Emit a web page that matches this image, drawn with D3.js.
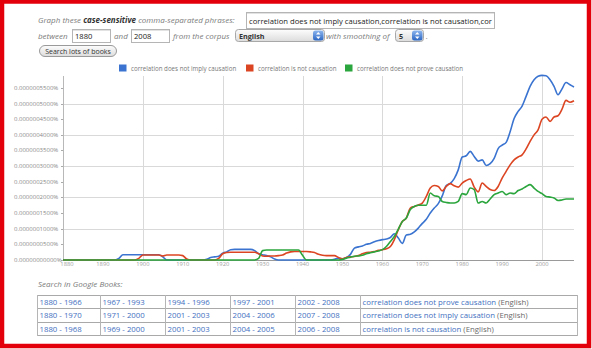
<!DOCTYPE html>
<html lang="en">
<head>
  <meta charset="UTF-8">
  <title>Ngram: correlation / causation</title>
  <style>
    body { margin: 0; background: #fff; overflow: hidden; }
    svg { display: block; font-family: "Open Sans", "DejaVu Sans", sans-serif; }
    .it { font-style: italic; fill: #7a7a7a; font-size: 8px; }
    .grid line { stroke: #d9d9d9; stroke-width: 1; }
    .ylab { font-size: 6px; fill: #8a8a8a; }
    .xlab { font-size: 5.8px; fill: #a0a0a0; }
    .legend text { font-size: 6.2px; fill: #777; }
    .cell { font-size: 7.8px; fill: #4470c0; }
    .lang { fill: #6a6a6a; }
  </style>
</head>
<body>
  <script src="https://d3js.org/d3.v7.min.js"></script>
  <script>
    // years 1880..2008, values in units of 1e-7 percent
    const years = d3.range(1880, 2009);
    const phrases = ["correlation does not imply causation", "correlation is not causation", "correlation does not prove causation"];
    const colors = ["#3a74d0", "#dc4522", "#2ba53d"];

    const notImply = [
      0, 0, 0, 0, 0, 0, 0, 0, 0, 0,
      0, 0, 0, 0, 0.05, 0.17, 0.17, 0.17, 0.17, 0.17,
      0.17, 0.17, 0.17, 0.17, 0.17, 0.1, 0, 0, 0, 0,
      0, 0, 0, 0, 0, 0, 0.02, 0.08, 0.1, 0.12,
      0.22, 0.26, 0.33, 0.34, 0.34, 0.34, 0.34, 0.34, 0.3, 0.2,
      0.17, 0.14, 0.1, 0.03, 0, 0, 0, 0, 0, 0,
      0, 0, 0, 0, 0, 0, 0, 0, 0.02, 0.06,
      0.03, 0.08, 0.18, 0.38, 0.42, 0.45, 0.5, 0.53, 0.58, 0.62,
      0.65, 0.67, 0.72, 0.84, 0.7, 0.53, 0.8, 0.82, 0.9, 1.02,
      1.17, 1.3, 1.5, 1.66, 1.8, 2.05, 2.38, 2.45, 2.6, 2.88,
      3.29, 3.33, 3.47, 3.31, 3.16, 3.2, 3.02, 3.08, 3.25, 3.56,
      3.67, 3.76, 4.1, 4.52, 4.75, 4.92, 5.23, 5.55, 5.76, 5.87,
      5.9, 5.89, 5.76, 5.55, 5.28, 5.47, 5.67, 5.6, 5.53
    ];
    const isNot = [
      0, 0, 0, 0, 0, 0, 0, 0, 0, 0,
      0, 0, 0, 0, 0, 0, 0, 0, 0, 0.05,
      0.16, 0.16, 0.16, 0.16, 0.16, 0.13, 0.16, 0.16, 0.16, 0.16,
      0.14, 0.03, 0, 0, 0, 0, 0, 0, 0, 0.05,
      0.2, 0.24, 0.25, 0.25, 0.25, 0.25, 0.25, 0.25, 0.25, 0.2,
      0.13, 0.12, 0.13, 0.13, 0.14, 0.16, 0.22, 0.26, 0.27, 0.27,
      0.27, 0.27, 0.26, 0.24, 0.18, 0.15, 0.14, 0.14, 0.14, 0.08,
      0.04, 0.08, 0.1, 0.11, 0.14, 0.2, 0.24, 0.25, 0.27, 0.31,
      0.33, 0.36, 0.43, 0.65, 0.97, 1.23, 1.34, 1.66, 1.71, 1.76,
      1.82, 2.03, 2.3, 2.38, 2.35, 2.21, 2.35, 2.44, 2.37, 2.33,
      2.46, 2.54, 2.59, 2.33, 2.18, 2.46, 2.35, 2.25, 2.22, 2.35,
      2.62, 2.83, 3.04, 3.2, 3.29, 3.36, 3.55, 3.79, 4.0, 4.16,
      4.5, 4.57, 4.43, 4.57, 4.61, 4.82, 5.1, 5.04, 5.09
    ];
    const notProve = [
      0, 0, 0, 0, 0, 0, 0, 0, 0, 0,
      0, 0, 0, 0, 0, 0, 0, 0, 0, 0,
      0, 0, 0, 0, 0, 0, 0, 0, 0, 0,
      0, 0, 0, 0, 0, 0, 0, 0, 0, 0,
      0, 0, 0, 0, 0, 0, 0, 0, 0, 0.05,
      0.3, 0.32, 0.32, 0.32, 0.32, 0.32, 0.32, 0.32, 0.32, 0.32,
      0.15, 0, 0, 0, 0, 0, 0, 0, 0, 0,
      0.02, 0.06, 0.09, 0.12, 0.13, 0.15, 0.2, 0.23, 0.26, 0.29,
      0.33, 0.43, 0.59, 0.75, 0.99, 1.23, 1.34, 1.61, 1.71, 1.75,
      1.75, 1.75, 2.14, 2.05, 2.03, 1.87, 1.84, 1.82, 1.82, 1.87,
      2.12, 2.09, 2.3, 2.25, 1.82, 1.87, 1.82, 1.95, 2.09, 2.14,
      2.19, 2.09, 2.14, 2.12, 2.22, 2.27, 2.35, 2.41, 2.3, 2.19,
      2.12, 2.03, 2.01, 1.98, 1.9, 1.92, 1.95, 1.95, 1.95
    ];
    const series = [notImply, isNot, notProve];

    const yTicks = [0, 0.5, 1, 1.5, 2, 2.5, 3, 3.5, 4, 4.5, 5, 5.5];
    const yTickLabels = ["0.00000000000%", "0.0000000500%", "0.0000001000%", "0.0000001500%",
      "0.0000002000%", "0.0000002500%", "0.0000003000%", "0.0000003500%",
      "0.0000004000%", "0.0000004500%", "0.0000005000%", "0.0000005500%"];
    const xTicks = d3.range(1880, 2001, 10);
    const xGrid = [1900, 1920, 1940, 1960, 1980, 2000];

    // search links table
    const tableRows = [
      ["1880 - 1966", "1967 - 1993", "1994 - 1996", "1997 - 2001", "2002 - 2008", "correlation does not prove causation"],
      ["1880 - 1970", "1971 - 2000", "2001 - 2003", "2004 - 2006", "2007 - 2008", "correlation does not imply causation"],
      ["1880 - 1968", "1969 - 2000", "2001 - 2003", "2004 - 2005", "2006 - 2008", "correlation is not causation"]
    ];

    const W = 592, H = 349;
    const svg = d3.select("body").append("svg").attr("width", W).attr("height", H);
    const defs = svg.append("defs");

    const selGrad = defs.append("linearGradient").attr("id", "selg").attr("x1", 0).attr("y1", 0).attr("x2", 0).attr("y2", 1);
    selGrad.append("stop").attr("offset", 0).attr("stop-color", "#fdfdfd");
    selGrad.append("stop").attr("offset", 1).attr("stop-color", "#dcdcdc");
    const spinGrad = defs.append("linearGradient").attr("id", "spg").attr("x1", 0).attr("y1", 0).attr("x2", 0).attr("y2", 1);
    spinGrad.append("stop").attr("offset", 0).attr("stop-color", "#8db6ee");
    spinGrad.append("stop").attr("offset", 1).attr("stop-color", "#2c67c4");

    // red frame
    svg.append("rect").attr("x", 2).attr("y", 1.5).attr("width", 587).attr("height", 344.5)
      .attr("fill", "#fff").attr("stroke", "#e3000b").attr("stroke-width", 4.5);

    // ---- query form ----
    const form = svg.append("g");
    const row1 = form.append("text").attr("class", "it").attr("x", 38).attr("y", 23);
    row1.append("tspan").text("Graph these ");
    row1.append("tspan").attr("font-weight", "bold").attr("fill", "#333").text("case-sensitive");
    row1.append("tspan").text(" comma-separated phrases:");

    function inputBox(x, y, w, h) {
      form.append("rect").attr("x", x + 0.5).attr("y", y + 0.5).attr("width", w).attr("height", h)
        .attr("fill", "#fff").attr("stroke", "#b5b5b5");
      form.append("line").attr("x1", x + 1).attr("x2", x + w).attr("y1", y + 1.5).attr("y2", y + 1.5)
        .attr("stroke", "#e2e2e2");
    }
    inputBox(246, 12, 248, 16);
    form.append("text").attr("x", 249).attr("y", 23.5)
      .attr("font-size", 7.6).attr("fill", "#222")
      .attr("textLength", 243).attr("lengthAdjust", "spacingAndGlyphs")
      .text("correlation does not imply causation,correlation is not causation,cor");

    form.append("text").attr("class", "it").attr("x", 38).attr("y", 39).text("between");
    inputBox(72, 29, 38, 13);
    form.append("text").attr("x", 75).attr("y", 38.8).attr("font-size", 7.6).attr("fill", "#222").text("1880");
    form.append("text").attr("class", "it").attr("x", 114).attr("y", 39).text("and");
    inputBox(131, 29, 38, 13);
    form.append("text").attr("x", 134).attr("y", 38.8).attr("font-size", 7.6).attr("fill", "#222").text("2008");
    form.append("text").attr("class", "it").attr("x", 173).attr("y", 39).text("from the corpus");

    function selectBox(x, w, label) {
      form.append("rect").attr("x", x + 0.5).attr("y", 29.5).attr("width", w).attr("height", 12).attr("rx", 3)
        .attr("fill", "url(#selg)").attr("stroke", "#a8a8a8");
      form.append("text").attr("x", x + 4).attr("y", 38.5).attr("font-size", 7.2)
        .attr("font-weight", "bold").attr("fill", "#333").text(label);
      const sx = x + w - 11;
      form.append("rect").attr("x", sx).attr("y", 30.5).attr("width", 10.5).attr("height", 10).attr("rx", 2.5)
        .attr("fill", "url(#spg)");
      form.append("path").attr("d", `M${sx + 3},34.5L${sx + 5.25},32L${sx + 7.5},34.5Z M${sx + 3},36.5L${sx + 5.25},39L${sx + 7.5},36.5Z`)
        .attr("fill", "#fff");
    }
    selectBox(235, 89, "English");
    form.append("text").attr("class", "it").attr("x", 326).attr("y", 39).text("with smoothing of");
    selectBox(395, 28, "5");
    form.append("text").attr("class", "it").attr("x", 426).attr("y", 39).text(".");

    form.append("rect").attr("x", 39.5).attr("y", 45.5).attr("width", 77).attr("height", 11).attr("rx", 5.5)
      .attr("fill", "url(#selg)").attr("stroke", "#9a9a9a");
    form.append("text").attr("x", 78).attr("y", 53.6).attr("text-anchor", "middle")
      .attr("font-size", 7).attr("fill", "#333").text("Search lots of books");

    // ---- chart ----
    const x = d3.scaleLinear().domain([1880, 2008]).range([63, 574]);
    const y = d3.scaleLinear().domain([0, 5.88]).range([260, 76]);

    const grid = svg.append("g").attr("class", "grid");
    grid.selectAll(".h").data([1, 2, 3, 4, 5]).join("line")
      .attr("x1", x(1880)).attr("x2", x(2008))
      .attr("y1", d => Math.round(y(d)) + 0.5).attr("y2", d => Math.round(y(d)) + 0.5);
    grid.selectAll(".v").data(xGrid).join("line")
      .attr("x1", d => Math.round(x(d)) + 0.5).attr("x2", d => Math.round(x(d)) + 0.5)
      .attr("y1", y.range()[1]).attr("y2", y(0));

    // axes
    svg.append("line").attr("x1", 63.5).attr("x2", 63.5).attr("y1", 76).attr("y2", 260)
      .attr("stroke", "#b8b8b8");
    svg.append("line").attr("x1", 63).attr("x2", x(2008)).attr("y1", 260.5).attr("y2", 260.5)
      .attr("stroke", "#9a9a9a");

    svg.append("g").selectAll("line").data(yTicks).join("line")
      .attr("x1", 61).attr("x2", 63).attr("y1", d => Math.round(y(d)) + 0.5).attr("y2", d => Math.round(y(d)) + 0.5)
      .attr("stroke", "#aaa");
    svg.append("g").selectAll("text").data(yTicks).join("text")
      .attr("class", "ylab").attr("x", 14).attr("y", d => y(d) + 2)
      .text((d, i) => yTickLabels[i]);
    svg.append("g").selectAll("text").data(xTicks).join("text")
      .attr("class", "xlab").attr("x", d => x(d) + (d === 1880 ? 4 : 0)).attr("y", 265.8)
      .attr("text-anchor", "middle").text(d => d);

    // lines
    const line = d3.line()
      .x((d, i) => x(years[i]))
      .y(d => y(d))
      .curve(d3.curveMonotoneX);
    svg.append("g").selectAll("path").data(series).join("path")
      .attr("d", line)
      .attr("fill", "none")
      .attr("stroke", (d, i) => colors[i])
      .attr("stroke-width", 1.6)
      .attr("stroke-linejoin", "round");

    // legend
    const legendX = [119, 246, 345];
    const legend = svg.append("g").attr("class", "legend");
    legend.selectAll("rect").data(phrases).join("rect")
      .attr("x", (d, i) => legendX[i]).attr("y", 64.5).attr("width", 7.5).attr("height", 7)
      .attr("fill", (d, i) => colors[i]);
    legend.selectAll("text").data(phrases).join("text")
      .attr("x", (d, i) => legendX[i] + 12).attr("y", 70.8).text(d => d);

    // ---- Google Books table ----
    svg.append("text").attr("class", "it").attr("x", 38).attr("y", 287).text("Search in Google Books:");
    const colX = [37, 100, 165, 230, 295, 360, 577];
    const rowY = [295, 308.3, 321.7, 335];
    const tbl = svg.append("g");
    tbl.selectAll(".hr").data(rowY).join("line")
      .attr("x1", colX[0]).attr("x2", colX[6])
      .attr("y1", d => Math.round(d) + 0.5).attr("y2", d => Math.round(d) + 0.5)
      .attr("stroke", "#a9a9a9");
    tbl.selectAll(".vr").data(colX).join("line")
      .attr("x1", d => d + 0.5).attr("x2", d => d + 0.5)
      .attr("y1", rowY[0]).attr("y2", rowY[3] + 1)
      .attr("stroke", "#b5b5b5");
    tableRows.forEach((r, ri) => {
      r.forEach((c, ci) => {
        const t = tbl.append("text").attr("class", "cell")
          .attr("x", colX[ci] + 2.5).attr("y", rowY[ri] + 9.8).text(c);
        if (ci === 5) t.append("tspan").attr("class", "lang").text(" (English)");
      });
    });
  </script>
</body>
</html>
